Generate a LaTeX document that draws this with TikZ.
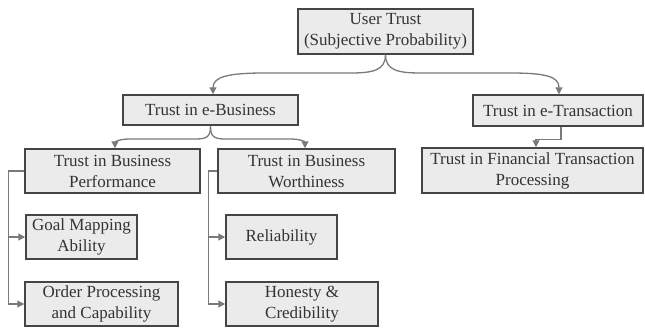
\documentclass[tikz,border=0pt]{standalone}
\usepackage{fontspec}
\setmainfont{Liberation Serif}
\usetikzlibrary{arrows.meta}
\definecolor{boxfill}{HTML}{EBEBEB}
\definecolor{boxline}{HTML}{454545}
\definecolor{conn}{HTML}{7A7A7A}
\definecolor{txt}{HTML}{333333}
\tikzset{
  box/.style={draw=boxline, line width=1.5pt, fill=boxfill, inner sep=0pt,
    align=center, text=txt, font=\fontsize{17}{21}\selectfont},
  link/.style={draw=conn, line width=1.3pt, -{Triangle[length=7pt,width=7pt]}},
  plain/.style={draw=conn, line width=1.3pt}
}
\begin{document}
\begin{tikzpicture}[x=1pt,y=-1pt]
\useasboundingbox (0,0) rectangle (645,329);
% boxes
\node[box, minimum width=175pt, minimum height=45pt] (UT) at (385.5,31.5) {User Trust\\(Subjective Probability)};
\node[box, minimum width=175pt, minimum height=30pt] (eB) at (210.5,110) {Trust in e-Business};
\node[box, minimum width=170pt, minimum height=31pt] (eT) at (558,110.5) {Trust in e-Transaction};
\node[box, minimum width=175pt, minimum height=44pt] (BP) at (112.5,171) {Trust in Business\\Performance};
\node[box, minimum width=177pt, minimum height=44pt] (BW) at (306.5,171) {Trust in Business\\Worthiness};
\node[box, minimum width=221pt, minimum height=45pt] (FT) at (532.5,170.5) {Trust in Financial Transaction\\Processing};
\node[box, minimum width=111pt, minimum height=44pt] (GM) at (81.5,237) {Goal Mapping\\Ability};
\node[box, minimum width=111pt, minimum height=44pt] (RL) at (281.5,237) {Reliability};
\node[box, minimum width=153pt, minimum height=44pt] (OP) at (101.5,304) {Order Processing\\and Capability};
\node[box, minimum width=152pt, minimum height=44pt] (HC) at (302,304) {Honesty \&\\Credibility};
% top curves
\draw[link] (UT.south) .. controls +(0,16) and +(22,0) .. (350,73) -- (265,73)
  .. controls +(-35,0) and +(0,-18) .. ([xshift=2.5pt]eB.north);
\draw[link] (UT.south) .. controls +(0,16) and +(-22,0) .. (421,73) -- (510,73)
  .. controls +(35,0) and +(0,-18) .. ([xshift=1pt]eT.north);
% second level curves
\draw[link] (eB.south) .. controls +(0,10) and +(12,0) .. (196,139) -- (130,139)
  .. controls +(-12,0) and +(0,-6) .. ([xshift=2.5pt]BP.north);
\draw[link] (eB.south) .. controls +(0,10) and +(-12,0) .. (225,139) -- (290,139)
  .. controls +(12,0) and +(0,-6) .. ([xshift=-1.5pt]BW.north);
% e-Transaction to financial
\draw[link] ([xshift=3pt]eT.south) -- ++(0,13) -| ([xshift=3.5pt]FT.north);
% side connectors
\coordinate (bpA) at ([xshift=-16pt]BP.west);
\coordinate (bwA) at ([xshift=-9pt]BW.west);
\draw[plain] (BP.west) -- (bpA);
\draw[link] (bpA) |- (GM.west);
\draw[link] (bpA) |- (OP.west);
\draw[plain] (BW.west) -- (bwA);
\draw[link] (bwA) |- (RL.west);
\draw[link] (bwA) |- (HC.west);
\end{tikzpicture}
\end{document}
